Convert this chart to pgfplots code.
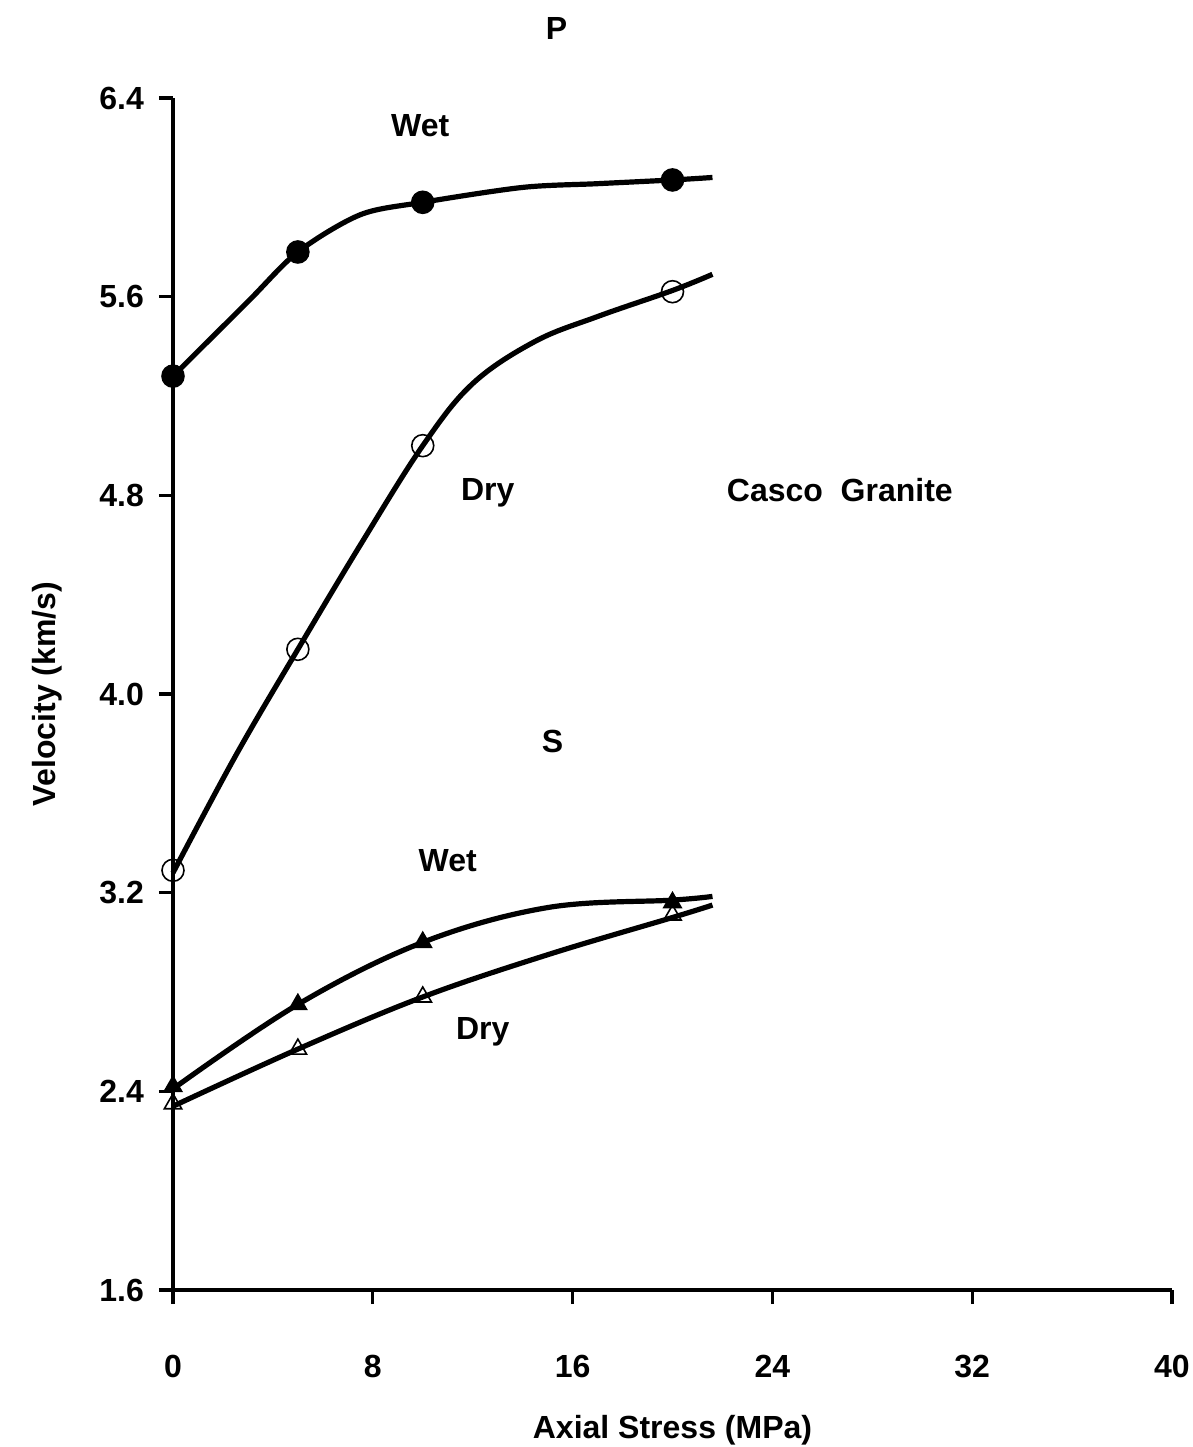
\documentclass[border=0pt]{standalone}
\usepackage{fontspec}
\setmainfont{Liberation Sans}
\usepackage{pgfplots}
\pgfplotsset{compat=1.18}
\begin{document}
\begin{tikzpicture}[x=1pt,y=1pt]
\path[use as bounding box] (-86.5pt,-78.5pt) rectangle (510pt,645pt);
\begin{axis}[
  at={(0,0)}, anchor=south west,
  scale only axis, width=499.5pt, height=596pt,
  xmin=0, xmax=40, ymin=1.6, ymax=6.4,
  axis x line*=bottom, axis y line*=left,
  axis line style={line width=1.7pt, -},
  xtick={0,8,...,40}, ytick={1.6,2.4,...,6.5},
  tick style={line width=1.7pt, black},
  major tick length=7pt,
  tick align=outside,
  xticklabel style={yshift=-22pt},
  yticklabel style={xshift=-4pt},
  /pgf/number format/assume math mode=true,
  yticklabel={\pgfmathprintnumber[fixed,precision=1,zerofill]{\tick}},
  ticklabel style={font=\fontsize{16}{19}\selectfont\bfseries},
  xlabel={Axial Stress (MPa)},
  ylabel={Velocity (km/s)},
  xlabel style={font=\fontsize{16}{19}\selectfont\bfseries, yshift=-12pt},
  ylabel style={font=\fontsize{16}{19}\selectfont\bfseries, yshift=12pt},
  clip=false,
  every axis plot/.append style={line width=2.6pt, black},
]
% P wet curve
\addplot[smooth, tension=0.5] coordinates {(0,5.28) (3,5.58) (5,5.78) (7.5,5.93) (10,5.98) (14,6.04) (17,6.055) (20,6.07) (21.6,6.08)};
% P dry curve
\addplot[smooth, tension=0.6] coordinates {(0,3.28) (2.5,3.75) (5,4.18) (7.5,4.60) (10,5.0) (12,5.25) (14.5,5.42) (17,5.52) (20,5.625) (21.6,5.69)};
% S wet curve
\addplot[smooth, tension=0.6] coordinates {(0,2.41) (5,2.75) (10,3.0) (15,3.14) (20,3.17) (21.6,3.185)};
% S dry curve
\addplot[smooth, tension=0.6] coordinates {(0,2.34) (5,2.57) (10,2.78) (15,2.95) (20,3.10) (21.6,3.15)};
% markers
\addplot[only marks, mark=*, mark size=5.5pt, line width=0.8pt] coordinates {(0,5.28) (5,5.78) (10,5.98) (20,6.07)};
\addplot[only marks, mark=o, mark size=5.5pt, line width=0.8pt, mark options={fill=white}] coordinates {(0,3.29) (5,4.18) (10,5.0) (20,5.62)};
\addplot[only marks, mark=triangle*, mark size=5pt, line width=0.8pt] coordinates {(0,2.42) (5,2.75) (10,3.0) (20,3.16)};
\addplot[only marks, mark=triangle, mark size=5pt, line width=0.8pt, mark options={fill=white}] coordinates {(0,2.35) (5,2.57) (10,2.78) (20,3.11)};
\begin{scope}[every node/.style={font=\fontsize{16}{19}\selectfont\bfseries}]
\node at (axis cs:15.36,6.68) {P};
\node at (axis cs:9.9,6.29) {Wet};
\node at (axis cs:12.6,4.81) {Dry};
\node at (axis cs:26.7,4.82) {Casco\ \ Granite};
\node at (axis cs:15.2,3.81) {S};
\node at (axis cs:11.0,3.33) {Wet};
\node at (axis cs:12.4,2.64) {Dry};
\end{scope}
\end{axis}
\end{tikzpicture}
\end{document}
